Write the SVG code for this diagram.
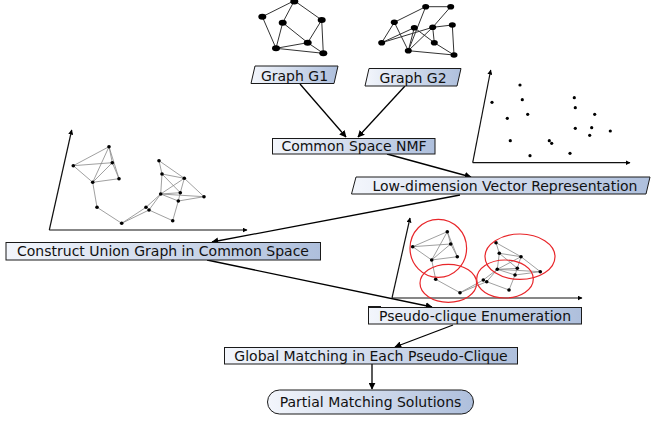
<svg xmlns="http://www.w3.org/2000/svg" width="653" height="423" viewBox="0 0 653 423">
<defs>
<linearGradient id="bg" x1="0" y1="0" x2="1" y2="0">
<stop offset="0" stop-color="#f3f6fc"/>
<stop offset="1" stop-color="#aebfdc"/>
</linearGradient>
<marker id="ah" viewBox="0 0 10 10" refX="9" refY="5" markerWidth="7" markerHeight="7" markerUnits="userSpaceOnUse" orient="auto">
<path d="M0,0 L10,5 L0,10 z" fill="#000"/>
</marker>
<marker id="ax" viewBox="0 0 10 10" refX="9" refY="5" markerWidth="5" markerHeight="5" markerUnits="userSpaceOnUse" orient="auto">
<path d="M0,0 L10,5 L0,10 z" fill="#000"/>
</marker>
</defs>
<style>
.box{fill:url(#bg);stroke:#1a1a1a;stroke-width:1}
.lbl{font-family:"DejaVu Sans",sans-serif;font-size:14px;fill:#111;text-anchor:middle}
.conn{stroke:#000;stroke-width:1.3;fill:none;marker-end:url(#ah)}
.axis{stroke:#111;stroke-width:1.2;fill:none;marker-end:url(#ax)}
.ge{stroke:#888;stroke-width:0.8;fill:none}
.gn{fill:#000}
.te{stroke:#333;stroke-width:1;fill:none}
.rc{fill:none;stroke:#e8262a;stroke-width:1.2}
</style>

<g id="connectors">
<line class="conn" x1="300" y1="84" x2="346" y2="137"/>
<line class="conn" x1="405" y1="86" x2="358" y2="137"/>
<line class="conn" x1="387" y1="154" x2="471" y2="177"/>
<line class="conn" x1="460" y1="195" x2="212" y2="242"/>
<line class="conn" x1="207" y1="260" x2="432" y2="307"/>
<line class="conn" x1="453" y1="325" x2="395" y2="347"/>
<line class="conn" x1="372" y1="364" x2="372" y2="389"/>
</g>

<g id="graph-g1-drawing">
<g class="te">
<line x1="294.3" y1="0.7" x2="262.3" y2="16.7"/>
<line x1="294.3" y1="0.7" x2="321.7" y2="20"/>
<line x1="294.3" y1="0.7" x2="282.7" y2="22.7"/>
<line x1="262.3" y1="16.7" x2="276" y2="48.3"/>
<line x1="282.7" y1="22.7" x2="276" y2="48.3"/>
<line x1="282.7" y1="22.7" x2="307.7" y2="42.7"/>
<line x1="321.7" y1="20" x2="307.7" y2="42.7"/>
<line x1="321.7" y1="20" x2="323.3" y2="53.3"/>
<line x1="276" y1="48.3" x2="307.7" y2="42.7"/>
<line x1="276" y1="48.3" x2="323.3" y2="53.3"/>
<line x1="307.7" y1="42.7" x2="323.3" y2="53.3"/>
</g>
<g class="gn">
<ellipse cx="294.3" cy="1.5" rx="4" ry="3"/>
<ellipse cx="262.3" cy="16.7" rx="4" ry="3"/>
<ellipse cx="282.7" cy="22.7" rx="4" ry="3"/>
<ellipse cx="321.7" cy="20" rx="4" ry="3"/>
<ellipse cx="307.7" cy="42.7" rx="4" ry="3"/>
<ellipse cx="276" cy="48.3" rx="4" ry="3"/>
<ellipse cx="323.3" cy="53.3" rx="4" ry="3"/>
</g>
</g>

<g id="graph-g2-drawing">
<g class="te">
<line x1="425.7" y1="6.7" x2="450.7" y2="6.7"/>
<line x1="425.7" y1="6.7" x2="394.3" y2="22.3"/>
<line x1="425.7" y1="6.7" x2="408.3" y2="50.7"/>
<line x1="450.7" y1="6.7" x2="432.7" y2="27.3"/>
<line x1="394.3" y1="22.3" x2="381.7" y2="42.7"/>
<line x1="394.3" y1="22.3" x2="408.3" y2="50.7"/>
<line x1="414.3" y1="27.7" x2="381.7" y2="42.7"/>
<line x1="414.3" y1="27.7" x2="408.3" y2="50.7"/>
<line x1="414.3" y1="27.7" x2="434.3" y2="42.7"/>
<line x1="432.7" y1="27.3" x2="452.3" y2="25"/>
<line x1="432.7" y1="27.3" x2="408.3" y2="50.7"/>
<line x1="432.7" y1="27.3" x2="381.7" y2="42.7"/>
<line x1="432.7" y1="27.3" x2="434.3" y2="42.7"/>
<line x1="452.3" y1="25" x2="454" y2="55"/>
<line x1="434.3" y1="42.7" x2="454" y2="55"/>
<line x1="408.3" y1="50.7" x2="454" y2="55"/>
</g>
<g class="gn">
<ellipse cx="425.7" cy="6.7" rx="3.5" ry="2.8"/>
<ellipse cx="450.7" cy="6.7" rx="3.5" ry="2.8"/>
<ellipse cx="394.3" cy="22.3" rx="3.5" ry="2.8"/>
<ellipse cx="414.3" cy="27.7" rx="3.5" ry="2.8"/>
<ellipse cx="432.7" cy="27.3" rx="3.5" ry="2.8"/>
<ellipse cx="452.3" cy="25" rx="3.5" ry="2.8"/>
<ellipse cx="381.7" cy="42.7" rx="3.5" ry="2.8"/>
<ellipse cx="434.3" cy="42.7" rx="3.5" ry="2.8"/>
<ellipse cx="408.3" cy="50.7" rx="3.5" ry="2.8"/>
<ellipse cx="454" cy="55" rx="3.5" ry="2.8"/>
</g>
</g>

<g id="node-graph-g1">
<polygon class="box" points="255,66 338,66 334,83.5 251,83.5"/>
<text class="lbl" x="294.5" y="80.5">Graph G1</text>
</g>
<g id="node-graph-g2">
<polygon class="box" points="369,68.5 461,68.5 457,86 365,86"/>
<text class="lbl" x="413" y="83">Graph G2</text>
</g>

<g id="scatter-plot">
<line class="axis" x1="472.7" y1="162.7" x2="490.7" y2="70"/>
<line class="axis" x1="472.7" y1="162.7" x2="630" y2="162.7"/>
<g class="gn">
<circle cx="520" cy="85" r="1.6"/>
<circle cx="492" cy="102.3" r="1.6"/>
<circle cx="522.3" cy="99.7" r="1.6"/>
<circle cx="507.3" cy="118.3" r="1.6"/>
<circle cx="527.7" cy="114.3" r="1.6"/>
<circle cx="510.3" cy="140.7" r="1.6"/>
<circle cx="530" cy="155.7" r="1.6"/>
<circle cx="549.3" cy="140.7" r="1.6"/>
<circle cx="551.7" cy="143.3" r="1.6"/>
<circle cx="570" cy="153.3" r="1.6"/>
<circle cx="574.3" cy="97.7" r="1.6"/>
<circle cx="575.3" cy="107.7" r="1.6"/>
<circle cx="594.7" cy="114.3" r="1.6"/>
<circle cx="575.3" cy="128.3" r="1.6"/>
<circle cx="591.7" cy="127.7" r="1.6"/>
<circle cx="589.7" cy="135.3" r="1.6"/>
<circle cx="610.3" cy="131" r="1.6"/>
</g>
</g>

<g id="node-nmf">
<rect class="box" x="272.5" y="138.5" width="162.5" height="15.5"/>
<text class="lbl" x="354" y="151.3">Common Space NMF</text>
</g>

<g id="node-lowdim">
<polygon class="box" points="356,177 650,177 646,194 351.5,194"/>
<text class="lbl" x="505" y="190.8">Low-dimension Vector Representation</text>
</g>

<g id="union-graph-plot">
<line class="axis" x1="49.3" y1="230" x2="71.7" y2="130"/>
<line class="axis" x1="49.3" y1="230" x2="247" y2="230"/>
<g class="ge">
<line x1="109" y1="146.7" x2="73.3" y2="165.7"/>
<line x1="109" y1="146.7" x2="112.3" y2="162.7"/>
<line x1="109" y1="146.7" x2="119" y2="178.7"/>
<line x1="109" y1="146.7" x2="92.7" y2="182.3"/>
<line x1="73.3" y1="165.7" x2="112.3" y2="162.7"/>
<line x1="73.3" y1="165.7" x2="92.7" y2="182.3"/>
<line x1="112.3" y1="162.7" x2="119" y2="178.7"/>
<line x1="112.3" y1="162.7" x2="92.7" y2="182.3"/>
<line x1="119" y1="178.7" x2="92.7" y2="182.3"/>
<line x1="92.7" y1="182.3" x2="97" y2="207.3"/>
<line x1="97" y1="207.3" x2="121.7" y2="223.3"/>
<line x1="121.7" y1="223.3" x2="146" y2="207.3"/>
<line x1="121.7" y1="223.3" x2="149" y2="210"/>
<line x1="146" y1="207.3" x2="160.7" y2="194"/>
<line x1="149" y1="210" x2="160.7" y2="194"/>
<line x1="159" y1="160.7" x2="162" y2="174"/>
<line x1="159" y1="160.7" x2="184.3" y2="178.3"/>
<line x1="162" y1="174" x2="184.3" y2="178.3"/>
<line x1="162" y1="174" x2="160.7" y2="194"/>
<line x1="162" y1="174" x2="180.3" y2="192.7"/>
<line x1="184.3" y1="178.3" x2="160.7" y2="194"/>
<line x1="184.3" y1="178.3" x2="180.3" y2="192.7"/>
<line x1="184.3" y1="178.3" x2="204" y2="196.7"/>
<line x1="160.7" y1="194" x2="180.3" y2="192.7"/>
<line x1="160.7" y1="194" x2="204" y2="196.7"/>
<line x1="160.7" y1="194" x2="178.3" y2="201"/>
<line x1="180.3" y1="192.7" x2="178.3" y2="201"/>
<line x1="178.3" y1="201" x2="204" y2="196.7"/>
<line x1="178.3" y1="201" x2="172.7" y2="220.7"/>
<line x1="149" y1="210" x2="172.7" y2="220.7"/>
</g>
<g class="gn">
<circle cx="109" cy="146.7" r="1.8"/>
<circle cx="73.3" cy="165.7" r="1.8"/>
<circle cx="112.3" cy="162.7" r="1.8"/>
<circle cx="119" cy="178.7" r="1.8"/>
<circle cx="92.7" cy="182.3" r="1.8"/>
<circle cx="97" cy="207.3" r="1.8"/>
<circle cx="121.7" cy="223.3" r="1.8"/>
<circle cx="159" cy="160.7" r="1.8"/>
<circle cx="162" cy="174" r="1.8"/>
<circle cx="184.3" cy="178.3" r="1.8"/>
<circle cx="160.7" cy="194" r="1.8"/>
<circle cx="180.3" cy="192.7" r="1.8"/>
<circle cx="178.3" cy="201" r="1.8"/>
<circle cx="204" cy="196.7" r="1.8"/>
<circle cx="146" cy="207.3" r="1.8"/>
<circle cx="149" cy="210" r="1.8"/>
<circle cx="172.7" cy="220.7" r="1.8"/>
</g>
</g>

<g id="node-construct">
<rect class="box" x="6" y="242.5" width="314.5" height="17.5"/>
<text class="lbl" x="163" y="256.3">Construct Union Graph in Common Space</text>
</g>

<g id="pseudo-clique-plot">
<line class="axis" x1="392" y1="298" x2="410" y2="218"/>
<line class="axis" x1="392" y1="298" x2="582" y2="298"/>
<g class="ge">
<line x1="447.3" y1="231.7" x2="412.7" y2="246.7"/>
<line x1="447.3" y1="231.7" x2="450.7" y2="244"/>
<line x1="447.3" y1="231.7" x2="457.3" y2="256.7"/>
<line x1="447.3" y1="231.7" x2="431.7" y2="260"/>
<line x1="412.7" y1="246.7" x2="450.7" y2="244"/>
<line x1="412.7" y1="246.7" x2="431.7" y2="260"/>
<line x1="450.7" y1="244" x2="457.3" y2="256.7"/>
<line x1="450.7" y1="244" x2="431.7" y2="260"/>
<line x1="457.3" y1="256.7" x2="431.7" y2="260"/>
<line x1="431.7" y1="260" x2="435.7" y2="279.3"/>
<line x1="435.7" y1="279.3" x2="460" y2="292.7"/>
<line x1="460" y1="292.7" x2="483.3" y2="280"/>
<line x1="460" y1="292.7" x2="486.7" y2="281.7"/>
<line x1="483.3" y1="280" x2="497.3" y2="269.3"/>
<line x1="486.7" y1="281.7" x2="497.3" y2="269.3"/>
<line x1="496" y1="242.7" x2="499.3" y2="253.3"/>
<line x1="496" y1="242.7" x2="521" y2="256.7"/>
<line x1="499.3" y1="253.3" x2="521" y2="256.7"/>
<line x1="499.3" y1="253.3" x2="497.3" y2="269.3"/>
<line x1="499.3" y1="253.3" x2="517.3" y2="268.3"/>
<line x1="521" y1="256.7" x2="497.3" y2="269.3"/>
<line x1="521" y1="256.7" x2="517.3" y2="268.3"/>
<line x1="521" y1="256.7" x2="540.3" y2="271.7"/>
<line x1="497.3" y1="269.3" x2="517.3" y2="268.3"/>
<line x1="497.3" y1="269.3" x2="540.3" y2="271.7"/>
<line x1="497.3" y1="269.3" x2="515" y2="275"/>
<line x1="517.3" y1="268.3" x2="515" y2="275"/>
<line x1="515" y1="275" x2="540.3" y2="271.7"/>
<line x1="515" y1="275" x2="509" y2="290"/>
<line x1="486.7" y1="281.7" x2="509" y2="290"/>
</g>
<g class="gn">
<circle cx="447.3" cy="231.7" r="1.8"/>
<circle cx="412.7" cy="246.7" r="1.8"/>
<circle cx="450.7" cy="244" r="1.8"/>
<circle cx="457.3" cy="256.7" r="1.8"/>
<circle cx="431.7" cy="260" r="1.8"/>
<circle cx="435.7" cy="279.3" r="1.8"/>
<circle cx="460" cy="292.7" r="1.8"/>
<circle cx="496" cy="242.7" r="1.8"/>
<circle cx="499.3" cy="253.3" r="1.8"/>
<circle cx="521" cy="256.7" r="1.8"/>
<circle cx="497.3" cy="269.3" r="1.8"/>
<circle cx="517.3" cy="268.3" r="1.8"/>
<circle cx="515" cy="275" r="1.8"/>
<circle cx="540.3" cy="271.7" r="1.8"/>
<circle cx="483.3" cy="280" r="1.8"/>
<circle cx="486.7" cy="281.7" r="1.8"/>
<circle cx="509" cy="290" r="1.8"/>
</g>
<ellipse class="rc" cx="438.3" cy="248.3" rx="28.3" ry="29"/>
<ellipse class="rc" cx="448.3" cy="283.3" rx="28.3" ry="19"/>
<ellipse class="rc" cx="520" cy="256.7" rx="35" ry="22.7"/>
<ellipse class="rc" cx="505" cy="279" rx="28.3" ry="19"/>
</g>

<g id="node-pseudo">
<line x1="368" y1="306.5" x2="381" y2="306.5" stroke="#1a1a1a" stroke-width="1"/>
<rect class="box" x="368.5" y="307.5" width="213" height="16.5"/>
<text class="lbl" x="475" y="320.8">Pseudo-clique Enumeration</text>
</g>

<g id="node-global">
<rect class="box" x="224.5" y="347.5" width="293" height="16.5"/>
<text class="lbl" x="371" y="360.8">Global Matching in Each Pseudo-Clique</text>
</g>

<g id="node-partial">
<rect class="box" x="267.5" y="390" width="206" height="24" rx="12" ry="12"/>
<text class="lbl" x="370.5" y="407">Partial Matching Solutions</text>
</g>
</svg>
